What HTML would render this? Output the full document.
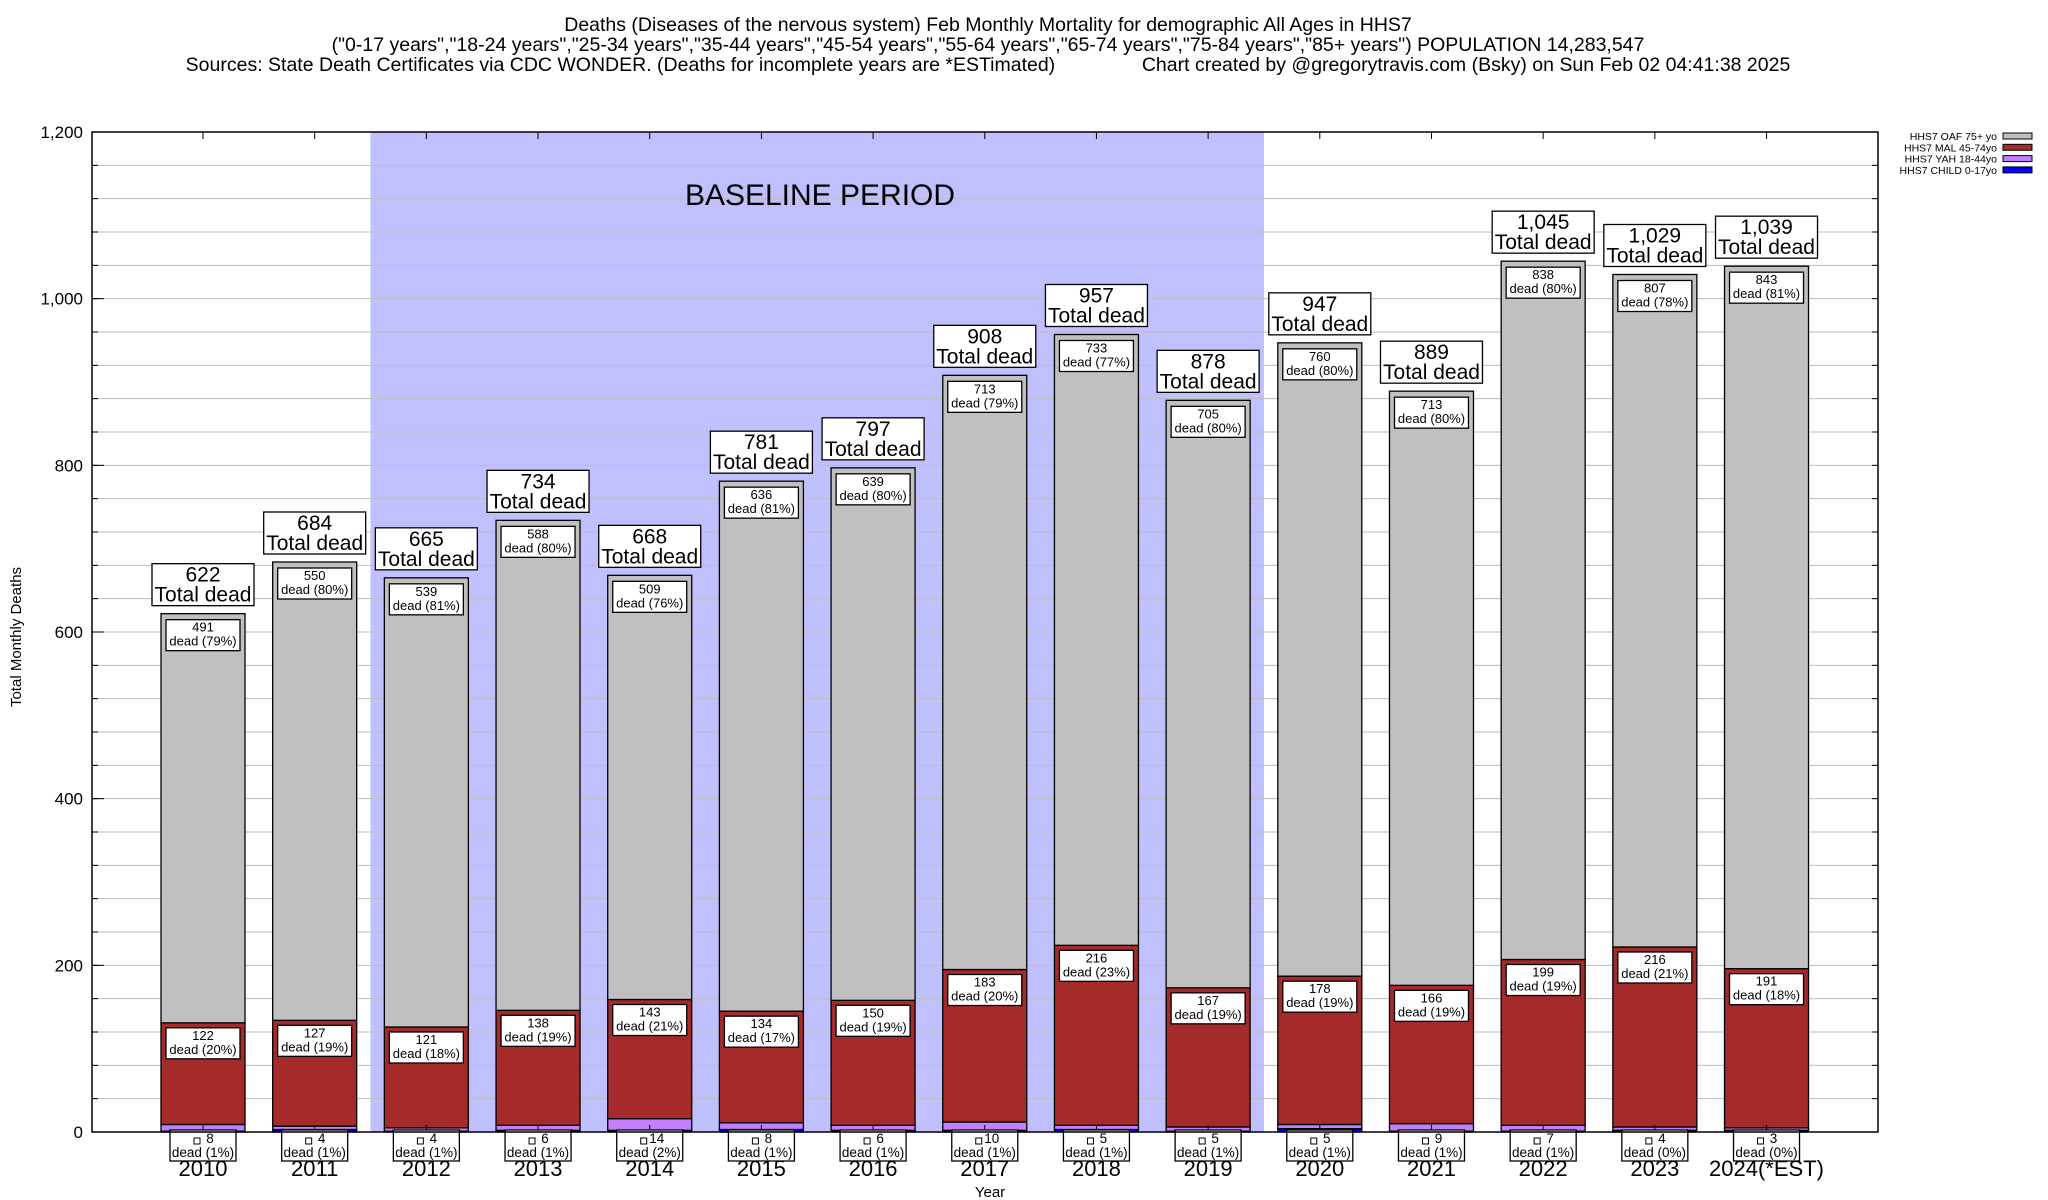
<!DOCTYPE html>
<html><head><meta charset="utf-8">
<style>
body{margin:0;background:#fff;width:2048px;height:1200px;overflow:hidden}
svg{display:block;font-family:"Liberation Sans",Arial,sans-serif}
</style></head>
<body>
<svg id="chart" width="2048" height="1200" viewBox="0 0 2048 1200">
<g font-size="19.5" text-anchor="middle" fill="#000">
<text x="988" y="31">Deaths (Diseases of the nervous system) Feb Monthly Mortality for demographic All Ages in HHS7</text>
<text x="988" y="51">("0-17 years","18-24 years","25-34 years","35-44 years","45-54 years","55-64 years","65-74 years","75-84 years","85+ years") POPULATION 14,283,547</text>
<text x="988" y="71" xml:space="preserve">Sources: State Death Certificates via CDC WONDER. (Deaths for incomplete years are *ESTimated)                Chart created by @gregorytravis.com (Bsky) on Sun Feb 02 04:41:38 2025</text>
</g>
<g id="plot"></g>
</svg>
<script>
const years = ['2010','2011','2012','2013','2014','2015','2016','2017','2018','2019','2020','2021','2022','2023','2024(*EST)'];
const totals = [622,684,665,734,668,781,797,908,957,878,947,889,1045,1029,1039];
const oaf = [491,550,539,588,509,636,639,713,733,705,760,713,838,807,843];
const mal = [122,127,121,138,143,134,150,183,216,167,178,166,199,216,191];
const yah = [8,4,4,6,14,8,6,10,5,5,5,9,7,4,3];
const child = [1,3,1,2,2,3,2,2,3,1,4,1,1,2,2];
const oafPct = [79,80,81,80,76,81,80,79,77,80,80,80,80,78,81];
const malPct = [20,19,18,19,21,17,19,20,23,19,19,19,19,21,18];
const yahPct = [1,1,1,1,2,1,1,1,1,1,1,1,1,0,0];
const yTicks = [0,200,400,600,800,1000,1200];

const NS='http://www.w3.org/2000/svg';
const L=92,R=1878,T=132,B=1132,YMAX=1200;
const y=v=>B-(v/YMAX)*(B-T);
const x=i=>203+i*111.68;
const BW=84;
const g=document.getElementById('plot');
function mk(tag,attrs,parent){const e=document.createElementNS(NS,tag);for(const k in attrs)e.setAttribute(k,attrs[k]);(parent||g).appendChild(e);return e;}
function txt(s,attrs,parent){const e=mk('text',attrs,parent);e.textContent=s;return e;}

const bl=mk('rect',{x:(x(1)+x(2))/2,y:T,width:(x(9)+x(10))/2-(x(1)+x(2))/2,height:B-T,fill:'#c0c0ff'});


for(let v=40;v<YMAX;v+=40){
  const ln=mk('line',{x1:L,x2:R,y1:y(v),y2:y(v),stroke:'#bbb','stroke-width':1});
  
  
  mk('line',{x1:L,x2:L+6,y1:y(v),y2:y(v),stroke:'#000'});
  mk('line',{x1:R-6,x2:R,y1:y(v),y2:y(v),stroke:'#000'});
}
const bpt=txt('BASELINE PERIOD',{x:820,y:205,'font-size':30,'text-anchor':'middle'});


yTicks.forEach(v=>{
  const t=txt(v.toLocaleString('en-US'),{x:83,y:y(v)+6,'font-size':17,'text-anchor':'end'});
  
  
  mk('line',{x1:L,x2:L+12,y1:y(v),y2:y(v),stroke:'#000'});
});
function box(cx,top,w,h,l1,l2,fs,name,d1,d2){
  const gg=mk('g',{});
  
  
  mk('rect',{x:cx-w/2,y:top,width:w,height:h,fill:'#fff',stroke:'#000','stroke-width':1.3},gg);
  txt(l1,{x:cx,y:top+d1,'font-size':fs,'text-anchor':'middle'},gg);
  txt(l2,{x:cx,y:top+d2,'font-size':fs,'text-anchor':'middle'},gg);
  return gg;
}
years.forEach((yr,i)=>{
  const cx=x(i),x0=cx-BW/2;
  const segs=[[child[i],'#0000ff','bar-child'],[yah[i],'#c080ff','bar-yah'],[mal[i],'#a52a2a','bar-mal'],[oaf[i],'#c0c0c0','bar-oaf']];
  let base=0;
  segs.forEach(s=>{
    const r=mk('rect',{x:x0,y:y(base+s[0]),width:BW,height:y(base)-y(base+s[0]),fill:s[1],stroke:'#000','stroke-width':1.3});
    
    
    base+=s[0];
  });
  mk('line',{x1:cx,x2:cx,y1:T,y2:T+7,stroke:'#000'});
  mk('line',{x1:cx,x2:cx,y1:B-7,y2:B,stroke:'#000'});
  box(cx,y(totals[i])-50,102,42,totals[i].toLocaleString('en-US'),'Total dead',21,'total-label',18,38);
  box(cx,y(totals[i])+6,74,31,String(oaf[i]),'dead ('+oafPct[i]+'%)',13,'oaf-label',12,26);
  box(cx,y(mal[i]+yah[i]+child[i])+5,74,31,String(mal[i]),'dead ('+malPct[i]+'%)',13,'mal-label',12,26);
  const yb=box(cx,B-2,66,31,String(yah[i]),'dead ('+yahPct[i]+'%)',13.5,'yah-label',13,27);
  yb.children[1].setAttribute('x',cx+7);
  mk('rect',{x:cx-9,y:B+6,width:6,height:6,fill:'#fff',stroke:'#000'},yb);
  const yl=txt(yr,{x:cx,y:B+44,'font-size':22,'text-anchor':'middle'});
  
  
});
const fr=mk('rect',{x:L,y:T,width:R-L,height:B-T,fill:'none',stroke:'#000','stroke-width':1.5});


const yt=txt('Total Monthly Deaths',{x:0,y:0,'font-size':15,'text-anchor':'middle',transform:'translate(21,637) rotate(-90)'});


const xt=txt('Year',{x:990,y:1197,'font-size':15,'text-anchor':'middle'});


const legNames=['HHS7 OAF 75+ yo','HHS7 MAL 45-74yo','HHS7 YAH 18-44yo','HHS7 CHILD 0-17yo'];
const legCols=['#c0c0c0','#a52a2a','#c080ff','#0000ff'];
legNames.forEach((n,k)=>{
  const ly=136+k*11.3;
  const lg=mk('g',{});
  
  
  txt(n,{x:1997,y:ly+4,'font-size':10.5,'text-anchor':'end'},lg);
  mk('rect',{x:2003,y:ly-3,width:29,height:6,fill:legCols[k],stroke:'#000','stroke-width':1},lg);
});
</script>
</body></html>
